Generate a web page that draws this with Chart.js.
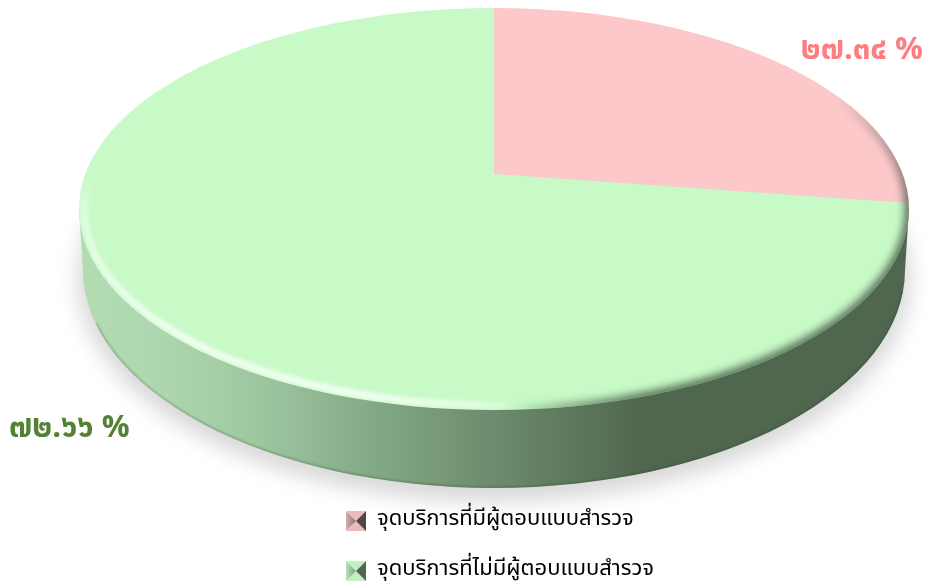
<!DOCTYPE html>
<html lang="th">
<head>
<meta charset="utf-8">
<title>จุดบริการ</title>
<script src="https://cdn.jsdelivr.net/npm/chart.js@4"></script>
<style>
    html, body { margin: 0; padding: 0; background: #fff; }
    #chart { display: block; }
</style>
</head>
<body>
<canvas id="chart" width="927" height="582"></canvas>
<script>
const categories = ['จุดบริการที่มีผู้ตอบแบบสำรวจ', 'จุดบริการที่ไม่มีผู้ตอบแบบสำรวจ'];
const percentages = [27.34, 72.66];
const sliceColors = ['#fcc8c9', '#c7fac7'];
const labelColors = ['#ff7c80', '#548235'];

const FONT = "'Noto Sans Thai', 'Noto Sans', Tahoma, sans-serif";
const THAI_DIGITS = '๐๑๒๓๔๕๖๗๘๙';

// where things sit on the picture
const face = { x: 494, y: 209, rx: 415, ry: 201 };
const base = { x: 494, y: 270, rx: 411, ry: 218 };
const apex = { x: 494, y: 174 };
const squash = 0.475;
const labelPos = [{ x: 923, y: 59 }, { x: 9, y: 437 }];

function toThai(v) {
    return v.toFixed(2).replace(/\d/g, d => THAI_DIGITS[d]) + ' %';
}

function ellipsePath(ctx, e) {
    ctx.beginPath();
    ctx.ellipse(e.x, e.y, e.rx, e.ry, 0, 0, Math.PI * 2);
}

// wall between the two ellipses
function bodyPath(ctx) {
    ctx.beginPath();
    ctx.moveTo(face.x - face.rx, face.y);
    ctx.ellipse(base.x, base.y, base.rx, base.ry, 0, Math.PI, 0, true);
    ctx.lineTo(face.x + face.rx, face.y);
    ctx.closePath();
}

function makeSwatch(light, outer, inner, dark) {
    const c = document.createElement('canvas');
    c.width = 20;
    c.height = 20;
    const g = c.getContext('2d');
    const tri = (x1, y1, x2, y2, fill) => {
        g.fillStyle = fill;
        g.beginPath();
        g.moveTo(x1, y1);
        g.lineTo(x2, y2);
        g.lineTo(10, 10);
        g.closePath();
        g.fill();
    };
    const left = g.createLinearGradient(0, 0, 10, 0);
    left.addColorStop(0, outer);
    left.addColorStop(1, inner);
    tri(0, 0, 20, 0, light);
    tri(0, 20, 20, 20, light);
    tri(0, 0, 0, 20, left);
    tri(20, 0, 20, 20, dark);
    return c;
}

const swatches = [
    makeSwatch('#ecbcbc', '#d8aeae', '#8f7272', '#54444a'),
    makeSwatch('#c4eec4', '#b8e2b8', '#7da07d', '#4f6650')
];

const pie3d = {
    id: 'pie3d',
    afterLayout(chart) {
        chart.legend.left = 318;
        chart.legend.right = 927;
        chart.legend.top = 482;
        chart.legend.bottom = 800;
    },
    beforeDatasetsDraw(chart) {
        const ctx = chart.ctx;
        const arc = chart.getDatasetMeta(0).data[0];

        ctx.save();
        ctx.filter = 'blur(10px)';
        ctx.fillStyle = 'rgba(0,0,0,0.15)';
        ctx.beginPath();
        ctx.ellipse(base.x, base.y + 8, base.rx + 6, base.ry + 6, 0, 0, Math.PI * 2);
        ctx.fill();
        ctx.restore();

        const wall = ctx.createLinearGradient(face.x - face.rx, 0, face.x + face.rx, 0);
        wall.addColorStop(0, '#b3dcb3');
        wall.addColorStop(0.085, '#b0d8b0');
        wall.addColorStop(0.205, '#a0c9a2');
        wall.addColorStop(0.35, '#84aa86');
        wall.addColorStop(0.68, '#50674f');
        wall.addColorStop(1, '#50674f');
        ctx.save();
        bodyPath(ctx);
        ctx.fillStyle = wall;
        ctx.fill();
        ctx.clip();
        ctx.filter = 'blur(1px)';
        ctx.strokeStyle = 'rgba(40,60,40,0.28)';
        ctx.lineWidth = 3;
        ctx.beginPath();
        ctx.ellipse(base.x, base.y, base.rx, base.ry, 0, 0.1, Math.PI - 0.25);
        ctx.stroke();
        ctx.restore();

        // the slices are centred on the apex and cut to the top face
        ctx.save();
        ellipsePath(ctx, face);
        ctx.clip();
        ctx.translate(apex.x, apex.y);
        ctx.scale(1, squash);
        ctx.translate(-arc.x, -arc.y);
    },
    afterDatasetsDraw(chart) {
        const ctx = chart.ctx;
        ctx.restore();

        // bevel round the rim of the top face: light on the left, dark on the right
        const light = ctx.createConicGradient(0, face.x, face.y);
        light.addColorStop(0.22, 'rgba(240,255,240,0)');
        light.addColorStop(0.26, 'rgba(240,255,240,0.7)');
        light.addColorStop(0.34, 'rgba(255,255,255,0.95)');
        light.addColorStop(0.44, 'rgba(255,255,255,0.9)');
        light.addColorStop(0.5, 'rgba(255,255,255,0.55)');
        light.addColorStop(0.512, 'rgba(255,255,255,0)');
        const dark = ctx.createConicGradient(0, face.x, face.y);
        dark.addColorStop(0, 'rgba(80,95,79,0.95)');
        dark.addColorStop(0.144, 'rgba(80,103,79,1)');
        dark.addColorStop(0.19, 'rgba(80,103,79,0.6)');
        dark.addColorStop(0.24, 'rgba(80,103,79,0)');
        dark.addColorStop(0.95, 'rgba(80,70,70,0)');
        dark.addColorStop(1, 'rgba(80,95,79,0.95)');

        ctx.save();
        ellipsePath(ctx, face);
        ctx.clip();
        ctx.filter = 'blur(2.5px)';
        ctx.strokeStyle = light;
        ctx.lineWidth = 6;
        ctx.beginPath();
        ctx.ellipse(face.x, face.y, face.rx - 5, face.ry - 5, 0, 0, Math.PI * 2);
        ctx.stroke();
        ctx.filter = 'blur(4px)';
        ctx.strokeStyle = dark;
        ctx.lineWidth = 10;
        ctx.beginPath();
        ctx.ellipse(face.x, face.y, face.rx + 1, face.ry + 1, 0, 0, Math.PI * 2);
        ctx.stroke();
        ctx.restore();

        ctx.save();
        ctx.font = 'bold 31px ' + FONT;
        ctx.textBaseline = 'alphabetic';
        percentages.forEach((v, i) => {
            ctx.fillStyle = labelColors[i];
            ctx.textAlign = i === 0 ? 'right' : 'left';
            ctx.fillText(toThai(v), labelPos[i].x, labelPos[i].y);
        });
        ctx.restore();
    }
};

new Chart(document.getElementById('chart'), {
    type: 'pie',
    data: {
        labels: categories,
        datasets: [{
            data: percentages,
            backgroundColor: sliceColors,
            borderWidth: 0,
            clip: 3000
        }]
    },
    options: {
        responsive: false,
        animation: false,
        devicePixelRatio: 1,
        radius: 500,
        plugins: {
            tooltip: { enabled: false },
            legend: {
                position: 'left',
                align: 'start',
                labels: {
                    usePointStyle: true,
                    pointStyleWidth: 20,
                    padding: 28,
                    color: '#595959',
                    font: { family: FONT, size: 22 },
                    generateLabels: chart => chart.data.labels.map((text, i) => ({
                        text,
                        pointStyle: swatches[i],
                        fillStyle: sliceColors[i],
                        strokeStyle: sliceColors[i],
                        lineWidth: 0,
                        index: i
                    }))
                }
            }
        }
    },
    plugins: [pie3d]
});
</script>
</body>
</html>
